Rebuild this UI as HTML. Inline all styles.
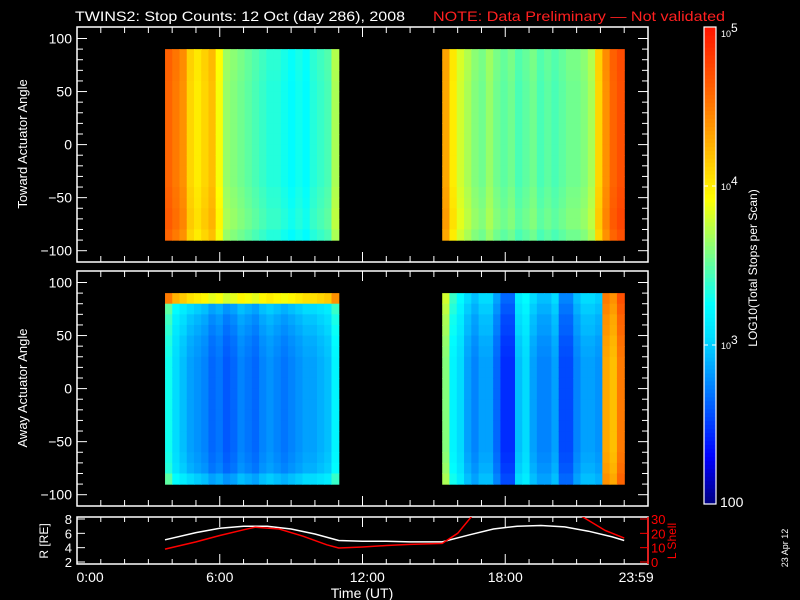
<!DOCTYPE html>
<html><head><meta charset="utf-8"><style>
html,body{margin:0;padding:0;background:#000;}
svg{display:block;font-family:"Liberation Sans",sans-serif;}
</style></head><body>
<svg id="chart" width="800" height="600" viewBox="0 0 800 600" xmlns="http://www.w3.org/2000/svg">
<rect x="0" y="0" width="800" height="600" fill="#000"/>
<text x="75" y="21" fill="#fff" font-size="14" textLength="330" lengthAdjust="spacingAndGlyphs">TWINS2: Stop Counts: 12 Oct (day 286), 2008</text>
<text x="433" y="21" fill="#ff2020" font-size="14" textLength="292" lengthAdjust="spacingAndGlyphs">NOTE: Data Preliminary — Not validated</text>
<g id="top"></g>
<g id="bot"></g>
<g id="orbit"></g>
<g id="cbar"></g>
<text transform="translate(788,548) rotate(-90)" fill="#fff" font-size="9" text-anchor="middle">23 Apr 12</text>
</svg>
<script>
// ---- data ----
const block1Start = 3.7, block1End = 11.0;
const block2Start = 15.35, block2End = 23.0;
const topBlock1 = [4.6,4.5,4.4,4.1,4.0,4.1,4.2,3.9,3.65,3.6,3.55,3.5,3.45,3.4,3.35,3.35,3.3,3.25,3.3,3.25,3.35,3.4,3.45,3.7];
const topBlock2 = [4.3,4.0,3.8,3.7,3.6,3.55,3.65,3.55,3.5,3.55,3.45,3.5,3.55,3.45,3.5,3.45,3.5,3.55,3.55,3.6,3.7,4.1,4.4,4.6,4.7];
const botBlock1 = [3.3,3.05,2.95,2.85,2.8,2.75,2.65,2.7,2.6,2.65,2.75,2.7,2.65,2.75,2.8,2.75,2.7,2.75,2.8,2.85,2.85,2.9,2.95,3.2];
const botBlock2 = [3.6,3.2,3.05,2.85,2.75,2.85,2.85,2.65,2.45,2.45,2.95,3.05,2.85,2.75,2.75,2.85,2.55,2.55,2.75,2.85,2.85,2.8,4.3,4.2,4.5];
const angleBins = [85,75,65,55,45,35,25,15,5,-5,-15,-25,-35,-45,-55,-65,-75,-85];
const topRowAdj = [0.02,0.02,0.01,0,0,0,0,0,0,0,0,0,0,0.02,0.03,0.05,0.05,0.0];
const botRowAdj1 = [1.2,0.2,0.12,0.08,0.04,0.02,0,0,0,0,0,0,0,0,0,0.02,0.05,0.2];
const botRowAdj2 = [0.2,0.15,0.1,0.08,0.04,0.02,0,0,0,0,0,0,0,0,0,0.02,0.05,0.1];
const orbitHours = [3.7,5.0,6.0,7.0,8.0,9.0,10.0,11.0,12.0,13.0,14.0,15.35,16.5,17.5,18.5,19.5,20.5,21.5,22.5,23.0];
const orbitR = [5.1,6.1,6.7,7.0,7.0,6.6,5.9,5.0,4.9,4.9,4.8,4.8,5.8,6.6,7.0,7.1,6.9,6.3,5.5,5.0];
const lShellHours = [3.7,5.0,6.0,7.0,7.5,8.5,9.5,10.5,11.0,12.0,13.0,14.0,15.35,16.0,16.6,21.2,22.2,23.0];
const lShellVals = [9.0,14,18.5,22.5,24.3,23.0,18,12,9.8,10.5,11.5,12.3,13.0,20,32,32,22,16.7];
const yTickVals = [-100,-50,0,50,100];
const timeTickLabels = ["0:00","6:00","12:00","18:00","23:59"];
const timeLabelHours = [0.55,6,12.2,18,23.5];
const rTicks = [2,4,6,8];
const lTicks = [0,10,20,30];
const cbarTicks = [["10","5",5],["10","4",4],["10","3",3]];

// ---- scales ----
const X0=77, X1=648;
const xT = h => X0 + h*(X1-X0)/24;
const yA = (v,top) => top + 117.6 - v*1.061;
const LMIN=2, LMAX=5;
const NS="http://www.w3.org/2000/svg";
function mk(tag,attrs,parent){const e=document.createElementNS(NS,tag);for(const k in attrs)e.setAttribute(k,attrs[k]);parent.appendChild(e);return e;}
function jet(v){
  let f=Math.max(0,Math.min(1,(v-LMIN)/(LMAX-LMIN)));
  const stops=[[0,0,0,128],[0.1,0,0,255],[0.35,0,220,255],[0.42,0,255,255],[0.64,255,255,0],[0.85,255,110,0],[1,255,20,0]];
  for(let i=1;i<stops.length;i++){if(f<=stops[i][0]){const a=stops[i-1],b=stops[i],t=(f-a[0])/(b[0]-a[0]);
    return `rgb(${Math.round(a[1]+t*(b[1]-a[1]))},${Math.round(a[2]+t*(b[2]-a[2]))},${Math.round(a[3]+t*(b[3]-a[3]))})`;}}
  return "rgb(255,20,0)";
}

function panel(g,top,cols1,cols2,rowAdjA,rowAdjB,label){
  [[cols1,block1Start,block1End,rowAdjA],[cols2,block2Start,block2End,rowAdjB]].forEach(([cols,s,e,rowAdj])=>{
    const w=(xT(e)-xT(s))/cols.length;
    cols.forEach((c,i)=>{angleBins.forEach((a,j)=>{
      const r=mk('rect',{x:(xT(s)+i*w).toFixed(2),y:yA(a+5,top).toFixed(2),width:(w+0.6).toFixed(2),height:(10*1.061+0.6).toFixed(2),fill:jet(c+rowAdj[j])},g);
      
      
    });});
  });
  const fr=mk('rect',{x:X0,y:top,width:X1-X0,height:235,fill:'none',stroke:'#fff','stroke-width':1.5},g);
  
  for(let v=-100;v<=100;v+=10){const y=yA(v,top),L=(v%50===0)?10:6;
    mk('line',{x1:X0,x2:X0+L,y1:y,y2:y,stroke:'#fff'},g);mk('line',{x1:X1,x2:X1-L,y1:y,y2:y,stroke:'#fff'},g);}
  yTickVals.forEach(v=>{const t=mk('text',{x:X0-5,y:yA(v,top)+5,fill:'#fff','font-size':14,'text-anchor':'end'},g);t.textContent=v===-100?'−100':v===-50?'−50':v;
    });
  for(let h=0;h<=24;h++){const x=xT(h),L=(h%6===0)?10:6;
    mk('line',{x1:x,x2:x,y1:top+235,y2:top+235-L,stroke:'#fff'},g);mk('line',{x1:x,x2:x,y1:top,y2:top+L,stroke:'#fff'},g);}
  const yl=mk('text',{transform:`translate(27,${top+117}) rotate(-90)`,fill:'#fff','font-size':13,'text-anchor':'middle'},g);
  yl.textContent=label;
}
panel(document.getElementById('top'),27,topBlock1,topBlock2,topRowAdj,topRowAdj,'Toward Actuator Angle');
panel(document.getElementById('bot'),271,botBlock1,botBlock2,botRowAdj1,botRowAdj2,'Away Actuator Angle');

// orbit panel
const og=document.getElementById('orbit');
const OT=517,OB=564;
const yR=r=>562-(r-2)*(43/6);
const yL=l=>562-l*(43/30);
mk('rect',{x:X0,y:OT,width:X1-X0,height:OB-OT,fill:'none',stroke:'#fff','stroke-width':1.5},og);
for(let h=0;h<=24;h++){const x=xT(h),L=(h%6===0)?10:5;
  mk('line',{x1:x,x2:x,y1:OB,y2:OB-L,stroke:'#fff'},og);mk('line',{x1:x,x2:x,y1:OT,y2:OT+L,stroke:'#fff'},og);}
rTicks.forEach(r=>{mk('line',{x1:X0,x2:X0+8,y1:yR(r),y2:yR(r),stroke:'#fff'},og);
  const t=mk('text',{x:X0-5,y:yR(r)+5,fill:'#fff','font-size':13,'text-anchor':'end'},og);t.textContent=r;
  });
lTicks.forEach(l=>{mk('line',{x1:X1,x2:X1-8,y1:yL(l),y2:yL(l),stroke:'#f00'},og);
  const t=mk('text',{x:X1+3,y:yL(l)+5,fill:'#f00','font-size':13},og);t.textContent=l;
  });
mk('line',{x1:X1,x2:X1,y1:OT,y2:OB,stroke:'#f00','stroke-width':1.5},og);
const clip=mk('clipPath',{id:'oc'},og);mk('rect',{x:X0,y:OT,width:X1-X0,height:OB-OT},clip);
const rp=mk('polyline',{points:orbitHours.map((h,i)=>xT(h).toFixed(1)+','+yR(orbitR[i]).toFixed(1)).join(' '),fill:'none',stroke:'#fff','stroke-width':1.5,'clip-path':'url(#oc)'},og);

const lp=mk('polyline',{points:lShellHours.map((h,i)=>xT(h).toFixed(1)+','+yL(lShellVals[i]).toFixed(1)).join(' '),fill:'none',stroke:'#f00','stroke-width':1.5,'clip-path':'url(#oc)'},og);

const rl=mk('text',{transform:'translate(48,541) rotate(-90)',fill:'#fff','font-size':12,'text-anchor':'middle'},og);rl.textContent='R [RE]';

const ll=mk('text',{transform:'translate(676,541) rotate(-90)',fill:'#f00','font-size':12,'text-anchor':'middle'},og);ll.textContent='L Shell';

timeTickLabels.forEach((s,i)=>{const t=mk('text',{x:xT(timeLabelHours[i]),y:582,fill:'#fff','font-size':14,'text-anchor':'middle'},og);t.textContent=s;
  });
const xt=mk('text',{x:362,y:598,fill:'#fff','font-size':14,'text-anchor':'middle'},og);xt.textContent='Time (UT)';


// colorbar
const cg=document.getElementById('cbar');
const CT=27,CB=504;
const yC=l=>CB-(l-LMIN)*(CB-CT)/(LMAX-LMIN);
for(let k=0;k<120;k++){const l0=LMIN+k*(LMAX-LMIN)/120;
  mk('rect',{x:704,y:yC(l0+(LMAX-LMIN)/120).toFixed(2),width:12,height:((CB-CT)/120+0.6).toFixed(2),fill:jet(l0+0.0125)},cg);}
mk('rect',{x:704,y:CT,width:12,height:CB-CT,fill:'none',stroke:'#fff','stroke-width':1.2},cg);
cbarTicks.forEach(([b,e,l])=>{const y=yC(l);
  if(l<LMAX){mk('line',{x1:704,x2:708,y1:y,y2:y,stroke:'#fff'},cg);mk('line',{x1:712,x2:716,y1:y,y2:y,stroke:'#fff'},cg);}
  const t=mk('text',{x:721,y:y+(l===LMAX?10:4),fill:'#fff','font-size':9},cg);t.textContent=b;
  const s=mk('tspan',{dy:-5,'font-size':12},t);s.textContent=e;
  });
const c100=mk('text',{x:720,y:507,fill:'#fff','font-size':14},cg);c100.textContent='100';

const ct=mk('text',{transform:'translate(757,268) rotate(-90)',fill:'#fff','font-size':12,'text-anchor':'middle'},cg);
ct.textContent='LOG10(Total Stops per Scan)';

</script>
</body></html>
